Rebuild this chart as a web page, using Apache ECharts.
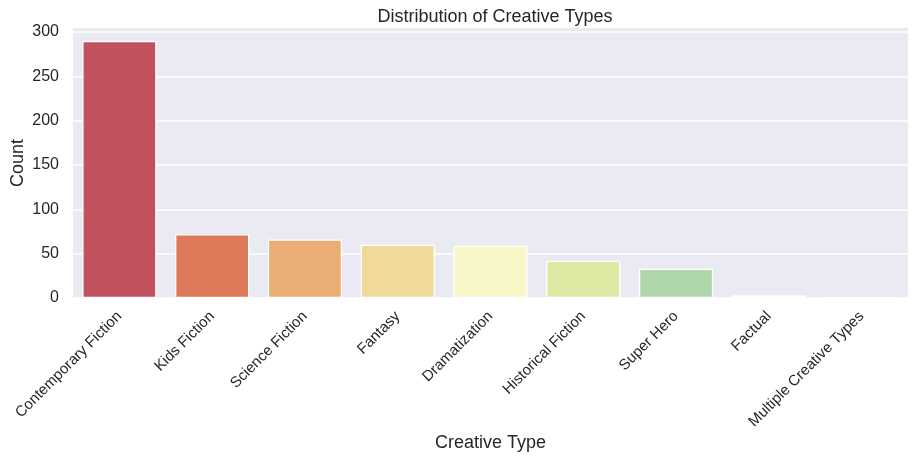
<!DOCTYPE html>
<html>
<head>
<meta charset="utf-8">
<script src="https://cdn.jsdelivr.net/npm/echarts@6/dist/echarts.min.js"></script>
<style>
html,body{margin:0;padding:0;background:#fff;}
#chart{width:916px;height:461px;}
</style>
</head>
<body>
<div id="chart"></div>
<script>
const categories = ["Contemporary Fiction","Kids Fiction","Science Fiction","Fantasy","Dramatization","Historical Fiction","Super Hero","Factual","Multiple Creative Types"];
const counts = [290, 72, 66, 60, 59, 42, 33, 3, 1];
const barColors = ["#C2515E","#DE7959","#EAAE75","#F0D999","#F7F7C7","#DEE9A4","#B0D6AB","#72B7A1","#4384AC"];
const yTicks = [0, 50, 100, 150, 200, 250, 300];

const FONT = "'Liberation Sans', Arial, sans-serif";
const TXT = "#262626";
const chart = echarts.init(document.getElementById('chart'), null, {renderer: 'canvas'});
chart.setOption({
  animation: false,
  backgroundColor: '#ffffff',
  textStyle: {fontFamily: FONT, color: TXT},
  title: {
    text: 'Distribution of Creative Types',
    left: 490, top: 3, textAlign: 'center',
    textStyle: {fontFamily: FONT, fontSize: 18, fontWeight: 'normal', color: TXT}
  },
  grid: {
    left: 73, right: 8, top: 28, bottom: 163,
    show: true, backgroundColor: '#EAEAF2', borderWidth: 0,
    containLabel: false,
    outerBoundsMode: 'none'
  },
  xAxis: {
    type: 'category',
    data: categories,
    name: 'Creative Type',
    nameLocation: 'middle',
    nameGap: 136,
    nameMoveOverlap: false,
    nameTextStyle: {fontFamily: FONT, fontSize: 18, color: TXT},
    axisLine: {show: false},
    axisTick: {show: false},
    splitLine: {show: false},
    axisLabel: {interval: 0, rotate: 45, fontSize: 15, color: TXT, fontFamily: FONT, margin: 16}
  },
  yAxis: {
    type: 'value',
    min: yTicks[0],
    max: 304.5,
    interval: 50,
    name: 'Count',
    nameLocation: 'middle',
    nameGap: 46,
    nameMoveOverlap: false,
    nameTextStyle: {fontFamily: FONT, fontSize: 18, color: TXT},
    axisLine: {show: false},
    axisTick: {show: false},
    axisLabel: {fontSize: 16, color: TXT, fontFamily: FONT, margin: 14, showMaxLabel: false,
      formatter: v => (yTicks.indexOf(v) >= 0 ? String(v) : '')},
    splitLine: {show: true, showMaxLine: false, lineStyle: {color: '#ffffff', width: 1.6}}
  },
  series: [{
    type: 'bar',
    data: counts.map((v, i) => ({value: v, itemStyle: {color: barColors[i]}})),
    barCategoryGap: '20%',
    itemStyle: {borderColor: '#ffffff', borderWidth: 1.3}
  }]
});
</script>
</body>
</html>
